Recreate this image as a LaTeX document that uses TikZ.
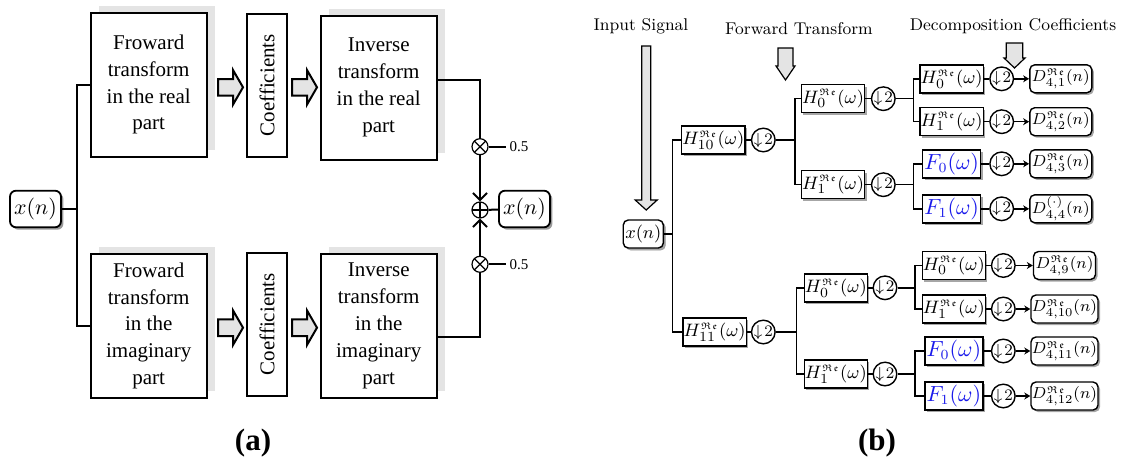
\documentclass[tikz,border=0pt]{standalone}
\usepackage{amsmath, amssymb}
\usepackage{fontspec}
\newfontfamily\timesfont{Liberation Serif}
\definecolor{shadegray}{RGB}{228, 228, 228}
\definecolor{filtblue}{RGB}{25, 25, 235}
\usetikzlibrary{shadows, arrows.meta, calc}
\newcommand{\rep}{{\scriptscriptstyle\mathfrak{Re}}}

\tikzset{
  bigbox/.style={draw, line width=1pt, fill=white, minimum width=58pt, minimum height=72pt, inner sep=1pt, align=center,
    font=\timesfont\fontsize{10.5}{13.4}\selectfont,
    drop shadow={shadow xshift=4.2pt, shadow yshift=3.4pt, fill=shadegray, opacity=1}},
  coefbox/.style={draw, line width=1pt, fill=white, rotate=90, minimum width=71.5pt, minimum height=20pt, inner sep=1pt,
    font=\timesfont\fontsize{10.5}{12}\selectfont},
  sigbox/.style={draw, line width=0.9pt, rounded corners=3pt, fill=white, minimum width=25.5pt, minimum height=18.3pt, inner sep=1pt,
    font=\fontsize{11}{13}\selectfont,
    drop shadow={shadow xshift=1.2pt, shadow yshift=-1.2pt, fill=black!40, opacity=1}},
  fatarrow/.style={draw, line width=1pt, fill=shadegray, line join=miter},
  opnode/.style={draw, circle, line width=0.6pt, minimum size=8pt, inner sep=0pt},
  multnode/.style={opnode, path picture={\draw[line width=0.6pt] (path picture bounding box.south west) -- (path picture bounding box.north east)
    (path picture bounding box.north west) -- (path picture bounding box.south east);}},
  addnode/.style={opnode, path picture={\draw[line width=0.6pt] (path picture bounding box.south) -- (path picture bounding box.north)
    (path picture bounding box.west) -- (path picture bounding box.east);}},
  gain/.style={font=\timesfont\fontsize{7.5}{9}\selectfont, inner sep=1.5pt},
  wire/.style={line width=1pt},
  % (b) styles
  filt/.style={draw, line width=0.7pt, fill=white, minimum width=29pt, minimum height=14pt, inner sep=0.3pt,
    font=\fontsize{9.5}{11}\selectfont,
    drop shadow={shadow xshift=1pt, shadow yshift=-1pt, fill=black!35, opacity=1}},
  filtF/.style={filt, text=filtblue, font=\fontsize{10.5}{12}\selectfont},
  dsamp/.style={draw, circle, line width=0.7pt, minimum size=10.5pt, inner sep=0pt, font=\fontsize{8}{9}\selectfont},
  coefout/.style={draw, line width=0.7pt, rounded corners=2.5pt, fill=white, minimum width=31pt, minimum height=14pt, inner sep=0.5pt,
    font=\fontsize{8}{9}\selectfont,
    drop shadow={shadow xshift=1pt, shadow yshift=-1pt, fill=black!35, opacity=1}},
  sigboxb/.style={sigbox, line width=0.7pt, rounded corners=2.5pt, minimum width=19.4pt, minimum height=14pt, font=\fontsize{9}{11}\selectfont,
    drop shadow={shadow xshift=1pt, shadow yshift=-1pt, fill=black!35, opacity=1}},
  droparrow/.style={draw, line width=0.6pt, fill=shadegray, line join=miter},
  wireb/.style={line width=0.75pt},
  steplabel/.style={font=\fontsize{8.5}{10}\selectfont},
  caption/.style={font=\timesfont\bfseries\fontsize{15.5}{18}\selectfont}
}

\begin{document}
\begin{tikzpicture}[x=0.5pt, y=-0.5pt]
  \useasboundingbox (0,0) rectangle (1124,461);

  % (a) real and imaginary branches
  \node[sigbox] (xa) at (35.5,209) {$x(n)$};
  \node[bigbox] (fwdre) at (148.7,84.7) {Froward\\transform\\in the real\\part};
  \node[bigbox] (fwdim) at (148.7,325.8) {Froward\\transform\\in the\\imaginary\\part};
  \node[coefbox] (cfre) at (267,85.3) {Coefficients};
  \node[coefbox] (cfim) at (267,324.3) {Coefficients};
  \node[bigbox] (invre) at (378.7,87.5) {Inverse\\transform\\in the real\\part};
  \node[bigbox] (invim) at (378.7,325.8) {Inverse\\transform\\in the\\imaginary\\part};

  % block arrows
  \filldraw[fatarrow] (218,79) -- ++(15,0) -- ++(0,-9) -- ++(10,17.3) -- ++(-10,17.3) -- ++(0,-9) -- ++(-15,0) -- cycle;
  \filldraw[fatarrow] (292,79) -- ++(15,0) -- ++(0,-9) -- ++(10,17.3) -- ++(-10,17.3) -- ++(0,-9) -- ++(-15,0) -- cycle;
  \filldraw[fatarrow] (218,319.4) -- ++(15,0) -- ++(0,-9) -- ++(10,17.3) -- ++(-10,17.3) -- ++(0,-9) -- ++(-15,0) -- cycle;
  \filldraw[fatarrow] (292,319.4) -- ++(15,0) -- ++(0,-9) -- ++(10,17.3) -- ++(-10,17.3) -- ++(0,-9) -- ++(-15,0) -- cycle;

  \coordinate (ja) at (77,209);
  \draw[wire] (xa) -- (ja) |- (fwdre);
  \draw[wire] (ja) |- (fwdim);

  % (a) recombination
  \node[multnode] (mre) at (480,146.7) {};
  \node[addnode] (sum) at (480,210) {};
  \node[multnode] (mim) at (480,264.3) {};
  \node[gain] (gre) at (519,146.7) {0.5};
  \node[gain] (gim) at (519,264.3) {0.5};
  \node[sigbox] (xr) at (524.5,209) {$x(n)$};
  \coordinate (cre) at (480,80);
  \coordinate (cim) at (480,337);
  \draw[wire] (invre.east |- cre) -- (cre) -- (mre);
  \draw[wire] (invim.east |- cim) -- (cim) -- (mim);
  \draw[wire, -{Straight Barb[length=3.5pt, width=7pt]}] (mre) -- (sum);
  \draw[wire, -{Straight Barb[length=3.5pt, width=7pt]}] (mim) -- (sum);
  \draw[wire] (mre) -- (gre);
  \draw[wire] (mim) -- (gim);
  \draw[wire] (sum) -- (xr);
  \node[caption] (capa) at (253,443) {(a)};

  % (b) headings
  \node[steplabel] (lbin) at (641,26) {Input Signal};
  \node[steplabel] (lbfw) at (799,29) {Forward Transform};
  \node[steplabel] (lbdc) at (1013,26) {Decomposition Coefficients};
  \filldraw[droparrow] (641.7,46) -- ++(0,154) -- ++(-6.5,0) -- ++(11,10) -- ++(11,-10) -- ++(-6.5,0) -- ++(0,-154) -- cycle;
  \filldraw[droparrow] (778,48) -- ++(0,18) -- ++(-2,0) -- ++(9.5,14) -- ++(9.5,-14) -- ++(-2,0) -- ++(0,-18) -- cycle;
  \filldraw[droparrow] (1006.2,43) -- ++(0,15) -- ++(-2.2,0) -- ++(10.5,10) -- ++(10.5,-10) -- ++(-2.2,0) -- ++(0,-15) -- cycle;

  % (b) first level
  \node[sigboxb] (xb) at (643.3,234) {$x(n)$};
  \node[filt] (h10) at (713.3,140) {$H^{\rep}_{10}(\omega)$};
  \node[dsamp] (d10) at (763.3,140) {$\downarrow\!2$};
  \node[filt] (h11) at (714.7,332) {$H^{\rep}_{11}(\omega)$};
  \node[dsamp] (d11) at (763.3,332) {$\downarrow\!2$};
  \coordinate (jb) at (672.7,234);
  \draw[wireb] (xb) -- (jb) |- (h10);
  \draw[wireb] (jb) |- (h11);
  \draw[wireb] (h10) -- (d10);
  \draw[wireb] (h11) -- (d11);

  % (b) second level
  \node[filt] (h100) at (833,98.7) {$H^{\rep}_{0}(\omega)$};
  \node[dsamp] (d100) at (883.3,98.7) {$\downarrow\!2$};
  \node[filt] (h101) at (833,184.7) {$H^{\rep}_{1}(\omega)$};
  \node[dsamp] (d101) at (883.3,184.7) {$\downarrow\!2$};
  \node[filt] (h110) at (835.8,287.8) {$H^{\rep}_{0}(\omega)$};
  \node[dsamp] (d110) at (885,287.8) {$\downarrow\!2$};
  \node[filt] (h111) at (835.8,374) {$H^{\rep}_{1}(\omega)$};
  \node[dsamp] (d111) at (885,374) {$\downarrow\!2$};
  \coordinate (j10) at (795,140);
  \coordinate (j11) at (796.7,332);
  \draw[wireb] (d10) -- (j10) |- (h100);
  \draw[wireb] (j10) |- (h101);
  \draw[wireb] (d11) -- (j11) |- (h110);
  \draw[wireb] (j11) |- (h111);
  \draw[wireb] (h100) -- (d100);
  \draw[wireb] (h101) -- (d101);
  \draw[wireb] (h110) -- (d110);
  \draw[wireb] (h111) -- (d111);

  % (b) third level, upper tree
  \node[filt] (h1000) at (951.7,78.8) {$H^{\rep}_{0}(\omega)$};
  \node[filt] (h1001) at (951.7,121.7) {$H^{\rep}_{1}(\omega)$};
  \node[filtF] (h1010) at (951.7,163.8) {$F_0(\omega)$};
  \node[filtF] (h1011) at (951.7,208.8) {$F_1(\omega)$};
  \node[dsamp] (d1000) at (1001.7,78.8) {$\downarrow\!2$};
  \node[dsamp] (d1001) at (1001.7,121.7) {$\downarrow\!2$};
  \node[dsamp] (d1010) at (1001.7,163.8) {$\downarrow\!2$};
  \node[dsamp] (d1011) at (1001.7,208.8) {$\downarrow\!2$};
  \node[coefout] (c1000) at (1060.8,78.8) {$D^{\rep}_{4,1}(n)$};
  \node[coefout] (c1001) at (1060.8,121.7) {$D^{\rep}_{4,2}(n)$};
  \node[coefout] (c1010) at (1060.8,163.8) {$D^{\rep}_{4,3}(n)$};
  \node[coefout] (c1011) at (1060.8,208.8) {$D^{(\cdot)}_{4,4}(n)$};
  \coordinate (j100) at (913.3,98.7);
  \coordinate (j101) at (913.3,184.7);
  \draw[wireb] (d100) -- (j100) |- (h1000);
  \draw[wireb] (j100) |- (h1001);
  \draw[wireb] (d101) -- (j101) |- (h1010);
  \draw[wireb] (j101) |- (h1011);
  \draw[wireb] (h1000) -- (d1000);
  \draw[wireb] (h1001) -- (d1001);
  \draw[wireb] (h1010) -- (d1010);
  \draw[wireb] (h1011) -- (d1011);
  \draw[wireb, -{Stealth[length=3pt, width=3.5pt]}] (d1000) -- (c1000);
  \draw[wireb, -{Stealth[length=3pt, width=3.5pt]}] (d1001) -- (c1001);
  \draw[wireb, -{Stealth[length=3pt, width=3.5pt]}] (d1010) -- (c1010);
  \draw[wireb, -{Stealth[length=3pt, width=3.5pt]}] (d1011) -- (c1011);

  % (b) third level, lower tree
  \node[filt] (h1100) at (953.8,265.5) {$H^{\rep}_{0}(\omega)$};
  \node[filt] (h1101) at (953.8,309) {$H^{\rep}_{1}(\omega)$};
  \node[filtF] (h1110) at (953.8,351) {$F_0(\omega)$};
  \node[filtF] (h1111) at (953.8,396) {$F_1(\omega)$};
  \node[dsamp] (d1100) at (1003.3,265.5) {$\downarrow\!2$};
  \node[dsamp] (d1101) at (1003.3,309) {$\downarrow\!2$};
  \node[dsamp] (d1110) at (1003.3,351) {$\downarrow\!2$};
  \node[dsamp] (d1111) at (1003.3,396) {$\downarrow\!2$};
  \node[coefout] (c1100) at (1064.5,265.5) {$D^{\rep}_{4,9}(n)$};
  \node[coefout] (c1101) at (1064.5,309) {$D^{\rep}_{4,10}(n)$};
  \node[coefout] (c1110) at (1064.5,351) {$D^{\rep}_{4,11}(n)$};
  \node[coefout] (c1111) at (1064.5,396) {$D^{\rep}_{4,12}(n)$};
  \coordinate (j110) at (915,287.8);
  \coordinate (j111) at (915,374);
  \draw[wireb] (d110) -- (j110) |- (h1100);
  \draw[wireb] (j110) |- (h1101);
  \draw[wireb] (d111) -- (j111) |- (h1110);
  \draw[wireb] (j111) |- (h1111);
  \draw[wireb] (h1100) -- (d1100);
  \draw[wireb] (h1101) -- (d1101);
  \draw[wireb] (h1110) -- (d1110);
  \draw[wireb] (h1111) -- (d1111);
  \draw[wireb, -{Stealth[length=3pt, width=3.5pt]}] (d1100) -- (c1100);
  \draw[wireb, -{Stealth[length=3pt, width=3.5pt]}] (d1101) -- (c1101);
  \draw[wireb, -{Stealth[length=3pt, width=3.5pt]}] (d1110) -- (c1110);
  \draw[wireb, -{Stealth[length=3pt, width=3.5pt]}] (d1111) -- (c1111);
  \node[caption] (capb) at (877,443) {(b)};
\end{tikzpicture}
\end{document}
